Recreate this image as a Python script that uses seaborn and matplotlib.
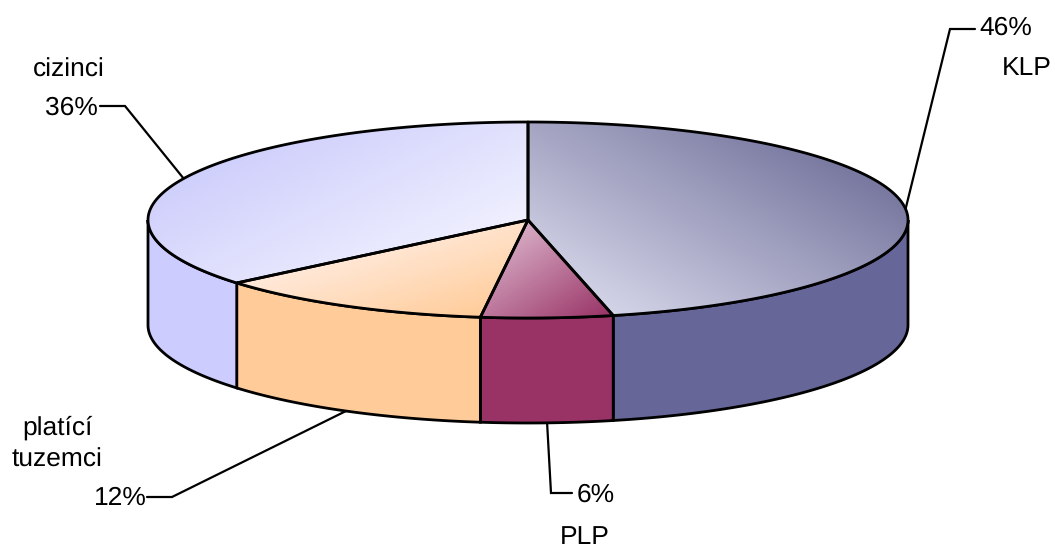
import numpy as np
import seaborn as sns
import matplotlib.pyplot as plt
from matplotlib.patches import Polygon

names = ['KLP', 'PLP', 'platící\ntuzemci', 'cizinci']
# slice sizes, the labels show them rounded
shares = [46.4, 5.6, 11.9, 36.1]
share_labels = ['46%', '6%', '12%', '36%']

side_colors = ['#666699', '#993366', '#ffcc99', '#ccccff']
light_colors = ['#d4d4e8', '#d8aec6', '#ffeadc', '#f0f0ff']
dark_colors = ['#7878a0', '#993366', '#ffcc99', '#cfcffc']
# which way the colour runs on each top face, from first to second colour
grad_dirs = [(0.495, -0.87), (0.55, 0.83), (0.3, 0.95), (-0.45, -0.89)]

sns.set_style('white')
plt.rcParams['font.family'] = ['Liberation Sans', 'DejaVu Sans']
plt.rcParams['text.hinting'] = 'no_hinting'

cx, cy = 528, 220
rx, ry = 380, 98
depth = 105
line = 2.0
fs = 19


def rim(t, drop=0):
    t = np.radians(t)
    return np.column_stack([cx + rx * np.sin(t), cy - ry * np.cos(t) + drop])


fig = plt.figure(figsize=(10.55, 5.5), dpi=100)
ax = fig.add_axes([0, 0, 1, 1])

edges = np.cumsum([0] + shares) * 3.6

# front wall of the disc, only the part between 90 and 270 degrees shows
for i in range(len(shares)):
    a = max(edges[i], 90)
    b = min(edges[i + 1], 270)
    if a >= b:
        continue
    t = np.linspace(a, b, 100)
    pts = np.vstack([rim(t), rim(t[::-1], depth)])
    ax.add_patch(Polygon(pts, closed=True, fc=side_colors[i], ec='black', lw=line, zorder=2))

xx, yy = np.meshgrid(np.arange(0, 1056), np.arange(0, 551))

# top faces with gradient
for i in range(len(shares)):
    t = np.linspace(edges[i], edges[i + 1], 200)
    pts = np.vstack([[cx, cy], rim(t)])
    dx, dy = grad_dirs[i]
    proj = pts[:, 0] * dx + pts[:, 1] * dy
    val = (xx * dx + yy * dy - proj.min()) / (proj.max() - proj.min())
    cmap = sns.blend_palette([light_colors[i], dark_colors[i]], as_cmap=True)
    im = ax.imshow(val, cmap=cmap, vmin=0, vmax=1, extent=(-0.5, 1055.5, 550.5, -0.5),
                   interpolation='bilinear', zorder=3)
    face = Polygon(pts, closed=True, fc='none', ec='black', lw=line, zorder=4, joinstyle='round')
    ax.add_patch(face)
    im.set_clip_path(face)

# leader lines start at the middle of each slice's rim
mids = (edges[:-1] + edges[1:]) / 2
knees = [(950, 29), (551, 493), (172, 497), (125, 106)]
ends = [(975, 29), (572, 493), (147, 497), (100, 106)]
for i in range(len(shares)):
    drop = depth if 90 < mids[i] < 270 else 0
    start = rim([mids[i]], drop)[0]
    ax.plot([start[0], knees[i][0], ends[i][0]], [start[1], knees[i][1], ends[i][1]],
            color='black', lw=1.6, zorder=1, solid_joinstyle='miter')

pct_pos = [(1006, 28), (596, 495), (120, 498), (71, 108)]
name_pos = [(1027, 68), (585, 537), (57, 444), (69, 70)]
for i in range(len(shares)):
    ax.text(*pct_pos[i], share_labels[i], ha='center', va='center', fontsize=fs, color='black')
    ax.text(*name_pos[i], names[i], ha='center', va='center', fontsize=fs, color='black', linespacing=1.4)

ax.set_xlim(0, 1055)
ax.set_ylim(550, 0)
ax.axis('off')

fig.savefig('out.png', dpi=100)
